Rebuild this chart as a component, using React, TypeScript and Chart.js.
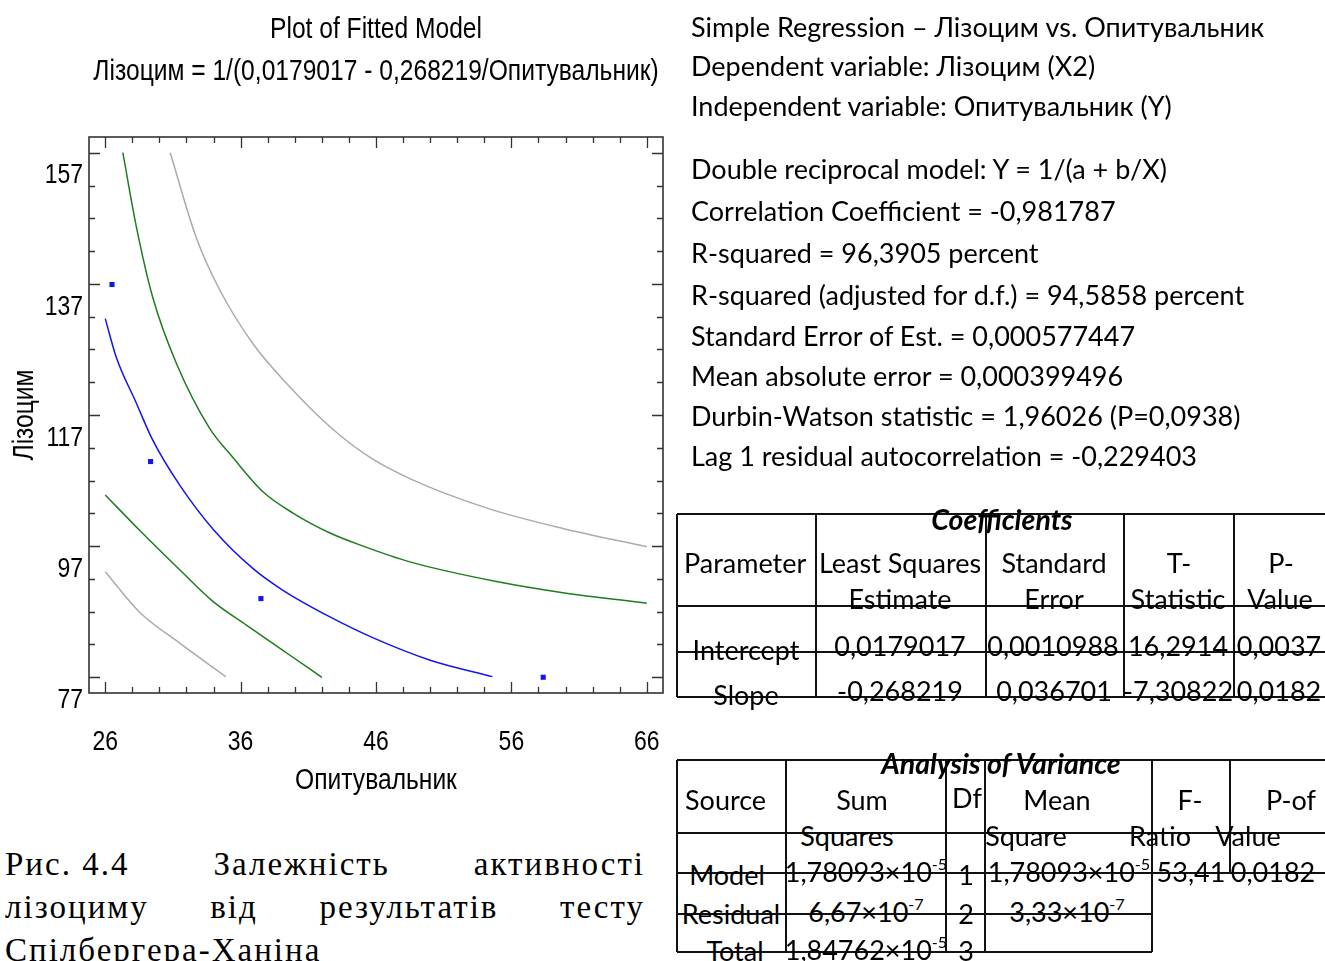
import React, { useEffect, useRef } from "react";
import { Chart, registerables } from "chart.js";

Chart.register(...registerables);

// ---------- chart data ----------
const X_MIN = 24.8;
const X_MAX = 67.2;
const Y_MIN = 74.6;
const Y_MAX = 159.4;
const X_MAJOR = [26, 36, 46, 56, 66];
const X_MINOR = [26, 28, 30, 32, 34, 36, 38, 40, 42, 44, 46, 48, 50, 52, 54, 56, 58, 60, 62, 64, 66];
const Y_MAJOR = [77, 97, 117, 137, 157];
const Y_MINOR = [77, 82, 87, 92, 97, 102, 107, 112, 117, 122, 127, 132, 137, 142, 147, 152, 157];

const OBS_X = [26.5, 29.35, 37.5, 58.35];
const OBS_Y = [136.9, 109.9, 89.0, 77.0];

const FIT_X = [26.0, 26.8, 28.3, 29.5, 31.5, 34.0, 36.9, 39.1, 42.6, 45.8, 50.0, 54.6];
const FIT_Y = [131.7, 125.9, 118.8, 113.2, 106.3, 99.5, 93.6, 90.3, 86.2, 83.0, 79.6, 77.1];

const CONF_UP_X = [27.3, 28.3, 29.5, 31.25, 33.7, 35.4, 37.65, 39.9, 42.6, 45.05, 48.5, 54.9, 59.8, 66.0];
const CONF_UP_Y = [157.0, 145.7, 135.0, 124.9, 115.0, 110.6, 105.3, 102.0, 99.0, 97.0, 94.6, 91.6, 89.9, 88.3];

const CONF_LO_X = [26.0, 28.5, 31.5, 34.0, 36.4, 39.4, 42.0];
const CONF_LO_Y = [104.8, 99.5, 93.4, 88.5, 85.0, 80.7, 77.0];

const PRED_UP_X = [30.8, 32.7, 34.45, 36.9, 39.4, 42.6, 45.5, 48.5, 54.2, 59.8, 66.0];
const PRED_UP_Y = [157.0, 144.2, 136.1, 127.9, 121.8, 115.2, 110.6, 107.3, 102.8, 99.7, 96.9];

const PRED_LO_X = [26.0, 28.5, 31.5, 34.9];
const PRED_LO_Y = [93.1, 87.0, 82.2, 77.1];

const TITLE_LINES = ["Plot of Fitted Model", "Лізоцим = 1/(0,0179017 - 0,268219/Опитувальник)"];
const X_TITLE = "Опитувальник";
const Y_TITLE = "Лізоцим";

// ---------- text data ----------
const SUMMARY_LINES = [
  "Simple Regression – Лізоцим vs. Опитувальник",
  "Dependent variable: Лізоцим (X2)",
  "Independent variable: Опитувальник (Y)",
  "Double reciprocal model: Y = 1/(a + b/X)",
  "Correlation Coefficient = -0,981787",
  "R-squared = 96,3905 percent",
  "R-squared (adjusted for d.f.) = 94,5858 percent",
  "Standard Error of Est. = 0,000577447",
  "Mean absolute error = 0,000399496",
  "Durbin-Watson statistic = 1,96026 (P=0,0938)",
  "Lag 1 residual autocorrelation = -0,229403",
];
const SUMMARY_Y = [27, 66, 106, 169, 211, 253, 295, 336, 376, 416, 456];

const CAPTION_LINES = [
  ["Рис. 4.4", "Залежність", "активності"],
  ["лізоциму", "від", "результатів", "тесту"],
  ["Спілбергера-Ханіна"],
];

const SANS = "'Liberation Sans', Arial, sans-serif";
const CAL = "Lato, 'Open Sans', sans-serif";
const NARROW_FACTOR = 0.82;

const BLUE = "#1414f0";
const GREEN = "#1e7d1e";
const GRAY = "#ababab";

function pts(xs: number[], ys: number[]) {
  return xs.map((x, i) => ({ x, y: ys[i] }));
}

// Condensed text rendering (Arial Narrow look) for the chart's own labels
const narrowText = {
  id: "narrowText",
  beforeDraw(chart: any) {
    const ctx = chart.ctx;
    if (ctx.__narrowPatched) return;
    const orig = ctx.fillText.bind(ctx);
    ctx.fillText = (t: string, x: number, y: number, mw?: number) => {
      ctx.save();
      ctx.translate(x, y);
      ctx.scale(NARROW_FACTOR, 1);
      if (mw === undefined || mw === null) orig(t, 0, 0);
      else orig(t, 0, 0, mw / NARROW_FACTOR);
      ctx.restore();
    };
    ctx.__narrowPatched = true;
  },
};

const frameTicks = {
  id: "frameTicks",
  afterDraw(chart: any) {
    const { ctx, chartArea: a, scales } = chart;
    const sx = scales.x;
    const sy = scales.y;
    ctx.save();
    ctx.strokeStyle = "#333";
    ctx.lineWidth = 1.6;
    ctx.strokeRect(a.left, a.top, a.right - a.left, a.bottom - a.top);
    ctx.lineWidth = 1.3;
    ctx.beginPath();
    X_MINOR.forEach((v) => {
      const p = Math.round(sx.getPixelForValue(v)) + 0.5;
      const len = X_MAJOR.includes(v) ? 11 : 6;
      ctx.moveTo(p, a.bottom);
      ctx.lineTo(p, a.bottom - len);
      ctx.moveTo(p, a.top);
      ctx.lineTo(p, a.top + len);
    });
    Y_MINOR.forEach((v) => {
      const p = Math.round(sy.getPixelForValue(v)) + 0.5;
      const len = Y_MAJOR.includes(v) ? 11 : 6;
      ctx.moveTo(a.left, p);
      ctx.lineTo(a.left + len, p);
      ctx.moveTo(a.right, p);
      ctx.lineTo(a.right - len, p);
    });
    ctx.stroke();
    ctx.restore();
  },
};

function FittedChart() {
  const ref = useRef<HTMLCanvasElement>(null);
  useEffect(() => {
    if (!ref.current) return;
    const lineDs = (label: string, xs: number[], ys: number[], color: string) => ({
      label,
      data: pts(xs, ys),
      showLine: true,
      borderColor: color,
      borderWidth: 1.5,
      pointRadius: 0,
      cubicInterpolationMode: "monotone",
    });
    const chart = new Chart(ref.current, {
      type: "scatter",
      data: {
        datasets: [
          lineDs("Prediction upper", PRED_UP_X, PRED_UP_Y, GRAY),
          lineDs("Prediction lower", PRED_LO_X, PRED_LO_Y, GRAY),
          lineDs("Confidence upper", CONF_UP_X, CONF_UP_Y, GREEN),
          lineDs("Confidence lower", CONF_LO_X, CONF_LO_Y, GREEN),
          lineDs("Fitted", FIT_X, FIT_Y, BLUE),
          {
            label: "Observed",
            data: pts(OBS_X, OBS_Y),
            showLine: false,
            pointStyle: "rect",
            pointRadius: 3.6,
            backgroundColor: BLUE,
            borderColor: BLUE,
            borderWidth: 0,
          },
        ] as any,
      },
      options: {
        animation: false,
        responsive: false,
        maintainAspectRatio: false,
        layout: { padding: 0 },
        plugins: {
          legend: { display: false },
          tooltip: { enabled: false },
          title: {
            display: true,
            text: TITLE_LINES,
            color: "#000",
            font: { family: SANS, size: 30, weight: "normal", lineHeight: 1.4 },
            padding: { top: 9, bottom: 44 },
          },
        },
        scales: {
          x: {
            type: "linear",
            min: X_MIN,
            max: X_MAX,
            grid: { display: false, drawTicks: false },
            border: { display: false },
            afterBuildTicks: (s: any) => {
              s.ticks = X_MAJOR.map((v) => ({ value: v }));
            },
            afterFit: (s: any) => {
              s.height = 107;
            },
            ticks: { color: "#000", font: { family: SANS, size: 28 }, padding: 32, maxRotation: 0, autoSkip: false },
            title: {
              display: true,
              text: X_TITLE,
              color: "#000",
              font: { family: SANS, size: 30 },
              padding: { top: 0, bottom: 1 },
            },
          },
          y: {
            type: "linear",
            min: Y_MIN,
            max: Y_MAX,
            grid: { display: false, drawTicks: false },
            border: { display: false },
            afterBuildTicks: (s: any) => {
              s.ticks = Y_MAJOR.map((v) => ({ value: v }));
            },
            afterFit: (s: any) => {
              s.width = 89;
            },
            ticks: { color: "#000", font: { family: SANS, size: 28 }, padding: 6, labelOffset: 23, autoSkip: false },
            title: {
              display: true,
              text: Y_TITLE,
              color: "#000",
              font: { family: SANS, size: 30 },
              padding: { top: 7, bottom: 0 },
            },
          },
          yRight: {
            type: "linear",
            position: "right",
            min: Y_MIN,
            max: Y_MAX,
            display: true,
            grid: { display: false, drawTicks: false },
            border: { display: false },
            ticks: { display: false },
            afterFit: (s: any) => {
              s.width = 89;
            },
          },
        },
      } as any,
      plugins: [narrowText, frameTicks],
    });
    return () => chart.destroy();
  }, []);
  return (
    <canvas
      ref={ref}
      width={752}
      height={800}
      style={{ position: "absolute", left: 0, top: 0, width: 752, height: 800 }}
    />
  );
}

type T = [number, number, string, "c" | "l"];

const COEF_H: [number, number, number][] = [
  [514, 677, 1325],
  [606, 677, 1325],
  [652, 677, 1325],
  [697, 677, 1325],
];
const COEF_V: [number, number, number][] = [
  [677, 514, 697],
  [816, 514, 697],
  [986, 514, 697],
  [1124, 514, 697],
  [1234, 514, 697],
];
const COEF_TEXT: T[] = [
  [684, 563, "Parameter", "l"],
  [900, 563, "Least Squares", "c"],
  [1054, 563, "Standard", "c"],
  [1179, 563, "T-", "c"],
  [1281, 563, "P-", "c"],
  [900, 599, "Estimate", "c"],
  [1054, 599, "Error", "c"],
  [1178, 599, "Statistic", "c"],
  [1280, 599, "Value", "c"],
  [746, 650, "Intercept", "c"],
  [900, 646, "0,0179017", "c"],
  [1053, 646, "0,0010988", "c"],
  [1178, 646, "16,2914", "c"],
  [1279, 646, "0,0037", "c"],
  [746, 695, "Slope", "c"],
  [900, 691, "-0,268219", "c"],
  [1054, 691, "0,036701", "c"],
  [1178, 691, "-7,30822", "c"],
  [1279, 691, "0,0182", "c"],
];

const ANOVA_H: [number, number, number][] = [
  [760, 677, 1325],
  [833, 677, 1325],
  [873, 677, 1325],
  [914, 677, 1152],
  [952, 677, 1152],
];
const ANOVA_V: [number, number, number][] = [
  [677, 760, 952],
  [786, 760, 952],
  [946, 760, 952],
  [985, 760, 952],
  [1152, 760, 952],
  [1230, 760, 873],
];
const ANOVA_TEXT: T[] = [
  [685, 800, "Source", "l"],
  [862, 800, "Sum", "c"],
  [967, 798, "Df", "c"],
  [1057, 800, "Mean", "c"],
  [1190, 800, "F-", "c"],
  [1291, 800, "P-of", "c"],
  [847, 836, "Squares", "c"],
  [1026, 836, "Square", "c"],
  [1160, 836, "Ratio", "c"],
  [1248, 836, "Value", "c"],
  [727, 875, "Model", "c"],
  [866, 872, "1,78093×10^-5", "c"],
  [966, 875, "1", "c"],
  [1069, 872, "1,78093×10^-5", "c"],
  [1191, 872, "53,41", "c"],
  [1273, 872, "0,0182", "c"],
  [731, 914, "Residual", "c"],
  [866, 912, "6,67×10^-7", "c"],
  [966, 914, "2", "c"],
  [1067, 912, "3,33×10^-7", "c"],
  [735, 951, "Total", "c"],
  [866, 950, "1,84762×10^-5", "c"],
  [966, 951, "3", "c"],
];

function renderExp(s: string) {
  const i = s.indexOf("^");
  if (i < 0) return s;
  return (
    <>
      {s.slice(0, i)}
      <span style={{ fontSize: "0.6em", position: "relative", top: "-0.75em" }}>{s.slice(i + 1)}</span>
    </>
  );
}

function Lines({ h, v }: { h: [number, number, number][]; v: [number, number, number][] }) {
  return (
    <>
      {h.map(([y, x1, x2], i) => (
        <div key={"h" + i} style={{ position: "absolute", left: x1, top: y - 1, width: x2 - x1, height: 1.5, background: "#111" }} />
      ))}
      {v.map(([x, y1, y2], i) => (
        <div key={"v" + i} style={{ position: "absolute", left: x - 1, top: y1, width: 1.5, height: y2 - y1, background: "#111" }} />
      ))}
    </>
  );
}

function Texts({ items, size }: { items: T[]; size: number }) {
  return (
    <>
      {items.map(([x, y, s, a], i) => (
        <div
          key={i}
          style={{
            position: "absolute",
            left: x,
            top: y,
            transform: a === "c" ? "translate(-50%, -50%)" : "translate(0, -50%)",
            whiteSpace: "nowrap",
            fontFamily: CAL,
            fontSize: size,
            lineHeight: 1.2,
            color: "#000",
          }}
        >
          {renderExp(s)}
        </div>
      ))}
    </>
  );
}

function BoldTitle({ x, y, text }: { x: number; y: number; text: string }) {
  return (
    <div
      style={{
        position: "absolute",
        left: x,
        top: y,
        transform: "translate(-50%, -50%)",
        fontFamily: CAL,
        fontSize: 28.5,
        lineHeight: 1.2,
        fontWeight: 700,
        fontStyle: "italic",
        whiteSpace: "nowrap",
        color: "#000",
      }}
    >
      {text}
    </div>
  );
}

export default function App() {
  return (
    <div style={{ position: "absolute", left: 0, top: 0, width: 1325, height: 961, overflow: "hidden", background: "#fff" }}>
      <FittedChart />
      {SUMMARY_LINES.map((s, i) => (
        <div
          key={i}
          style={{
            position: "absolute",
            left: 691,
            top: SUMMARY_Y[i],
            transform: "translate(0, -50%)",
            whiteSpace: "nowrap",
            fontFamily: CAL,
            fontSize: 27,
            lineHeight: 1.2,
            color: "#000",
          }}
        >
          {s}
        </div>
      ))}
      <Lines h={COEF_H} v={COEF_V} />
      <BoldTitle x={1002} y={519} text="Coefficients" />
      <Texts items={COEF_TEXT} size={27} />
      <Lines h={ANOVA_H} v={ANOVA_V} />
      <BoldTitle x={1001} y={763} text="Analysis of Variance" />
      <Texts items={ANOVA_TEXT} size={27} />
      {CAPTION_LINES.map((words, i) => (
        <div
          key={i}
          style={{
            position: "absolute",
            left: 5,
            top: 843 + i * 43,
            width: 640,
            height: 43,
            display: "flex",
            justifyContent: words.length > 1 ? "space-between" : "flex-start",
            fontFamily: "'Liberation Serif', 'DejaVu Serif', serif",
            fontSize: 33,
            lineHeight: "43px",
            whiteSpace: "nowrap",
            color: "#000",
          }}
        >
          {words.map((w, j) => (
            <span key={j} style={{ letterSpacing: 2 }}>
              {w}
            </span>
          ))}
        </div>
      ))}
    </div>
  );
}
